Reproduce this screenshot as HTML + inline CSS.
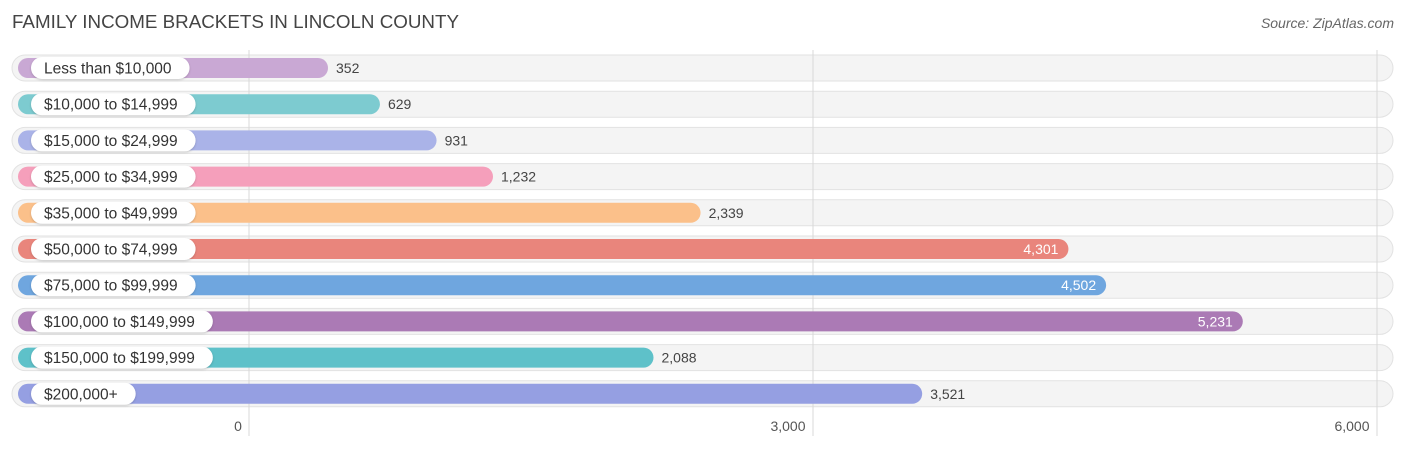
<!DOCTYPE html>
<html><head><meta charset="utf-8"><style>
body{margin:0;width:1406px;height:450px;background:#fff;font-family:"Liberation Sans",sans-serif;overflow:hidden;position:relative}
.title{position:absolute;left:12px;top:11px;font-size:18.8px;color:#444}
.src{position:absolute;right:12px;top:15px;font-size:14px;color:#666;font-style:italic}
</style></head><body>
<div class="title">FAMILY INCOME BRACKETS IN LINCOLN COUNTY</div>
<div class="src">Source: ZipAtlas.com</div>
<svg id="chart" width="1406" height="450" style="position:absolute;left:0;top:0"></svg>
<script>
const categories=["Less than $10,000","$10,000 to $14,999","$15,000 to $24,999","$25,000 to $34,999","$35,000 to $49,999","$50,000 to $74,999","$75,000 to $99,999","$100,000 to $149,999","$150,000 to $199,999","$200,000+"];
const values=[352,629,931,1232,2339,4301,4502,5231,2088,3521];
const colors=["#c9a8d4","#7dcbd0","#aab3e8","#f59fbb","#fbc08a","#e9857c","#6fa6df","#ab7ab5","#5ec1c9","#959fe2"];
const ticks=[0,3000,6000];
const tickLabels=["0","3,000","6,000"];
const NS="http://www.w3.org/2000/svg";
const svg=document.getElementById('chart');
const x0=262,k=0.1875;
function xScale(v){return x0+v*k;}
function gridX(v){return 249+v*0.188;}
function yScale(i){return 68+i*36.2;}
function mk(t,a){const e=document.createElementNS(NS,t);for(const n in a)e.setAttribute(n,a[n]);svg.appendChild(e);return e;}
categories.forEach((c,i)=>{
  const r=mk('rect',{x:12,y:yScale(i)-13,width:1381,height:26,rx:13,fill:'#f4f4f4',stroke:'#e2e2e2'});
  
  
});
ticks.forEach((t,i)=>{
  const gx=gridX(t);
  const l=mk('line',{x1:gx,x2:gx,y1:50,y2:436,stroke:'#d8d8d8','stroke-width':1});
  
  
  const tx=mk('text',{x:i==0?gx-11:gx-25,y:431,'font-size':14,fill:'#555','text-anchor':'middle'});
  tx.textContent=tickLabels[i];
  
  
});
categories.forEach((c,i)=>{
  const y=yScale(i);
  const b=mk('rect',{x:18,y:y-10,width:xScale(values[i])-18,height:20,rx:10,fill:colors[i]});
  
  
  const t=mk('text',{x:44,y:y+5.5,'font-size':15.5,fill:'#333'});
  t.textContent=c;
  const w=t.getComputedTextLength();
  const p=mk('rect',{x:31,y:y-11,width:w+31,height:22,rx:11,fill:'#fff',style:'filter:drop-shadow(0 1px 1px rgba(0,0,0,0.18))'});
  
  
  svg.appendChild(t);
  
  
  const inside=values[i]>4000;
  const v=mk('text',{x:inside?xScale(values[i])-10:xScale(values[i])+8,y:y+5,'font-size':14,fill:inside?'#fff':'#444','text-anchor':inside?'end':'start'});
  v.textContent=values[i].toLocaleString('en-US');
  
  
});
</script>
</body></html>
